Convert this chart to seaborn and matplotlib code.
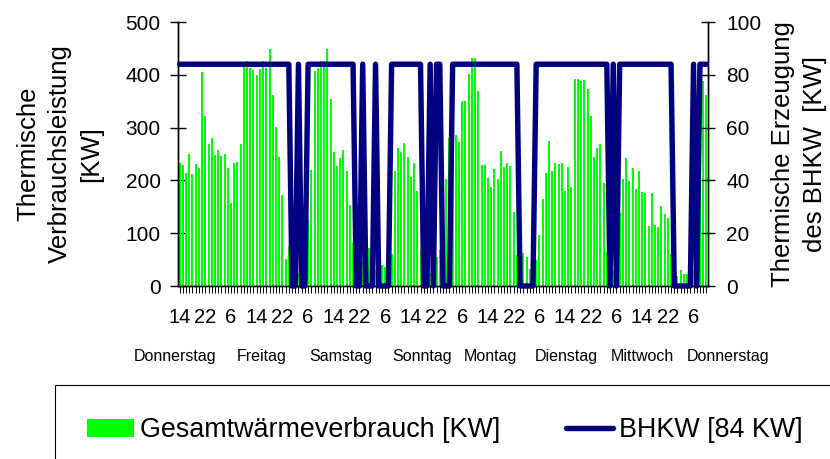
import numpy as np
import matplotlib
matplotlib.use('Agg')
import matplotlib.pyplot as plt
import seaborn as sns
from matplotlib.patches import Patch
from matplotlib.lines import Line2D

# hourly values, Thursday 14:00 to the following Thursday 10:00
verbrauch = [
    233, 229, 214, 250, 212, 231, 223, 405, 322, 269, 280, 248, 257, 246, 250, 223, 157, 233, 235, 269, 424, 426, 413, 409,
    399, 411, 426, 413, 449, 362, 301, 244, 172, 51, 76, 30, 20, 25, 40, 60, 125, 220, 407, 413, 426, 426, 449, 354,
    254, 227, 242, 257, 218, 153, 81, 40, 30, 45, 50, 72, 35, 30, 25, 40, 36, 30, 60, 218, 261, 254, 271, 244,
    206, 233, 180, 68, 40, 30, 25, 30, 55, 68, 60, 203, 280, 300, 286, 273, 350, 350, 401, 432, 432, 369, 229, 229,
    204, 187, 221, 203, 256, 225, 233, 227, 140, 59, 60, 62, 55, 32, 30, 50, 97, 165, 214, 274, 218, 233, 231, 233,
    180, 225, 187, 392, 392, 388, 390, 373, 322, 244, 261, 269, 195, 64, 40, 30, 50, 138, 203, 242, 199, 223, 184, 218,
    178, 176, 114, 176, 115, 112, 151, 136, 129, 60, 20, 19, 30, 23, 23, 20, 30, 100, 300, 388, 362,
]

bhkw = [
    84, 84, 84, 84, 84, 84, 84, 84, 84, 84, 84, 84, 84, 84, 84, 84, 84, 84, 84, 84, 84, 84, 84, 84,
    84, 84, 84, 84, 84, 84, 84, 84, 84, 84, 84, 0, 0, 84, 0, 0, 84, 84, 84, 84, 84, 84, 84, 84,
    84, 84, 84, 84, 84, 84, 84, 0, 0, 84, 0, 0, 0, 84, 0, 0, 0, 0, 84, 84, 84, 84, 84, 84,
    84, 84, 84, 84, 0, 0, 84, 0, 84, 84, 0, 0, 0, 84, 84, 84, 84, 84, 84, 84, 84, 84, 84, 84,
    84, 84, 84, 84, 84, 84, 84, 84, 84, 84, 0, 0, 0, 0, 0, 84, 84, 84, 84, 84, 84, 84, 84, 84,
    84, 84, 84, 84, 84, 84, 84, 84, 84, 84, 84, 84, 84, 84, 0, 84, 0, 84, 84, 84, 84, 84, 84, 84,
    84, 84, 84, 84, 84, 84, 84, 84, 84, 84, 0, 0, 0, 0, 0, 0, 84, 0, 84, 84, 84,
]

stunden = ['14', '22', '6'] * 7
tage = ['Donnerstag', 'Freitag', 'Samstag', 'Sonntag', 'Montag', 'Dienstag', 'Mittwoch', 'Donnerstag']
tage_px = [175, 262, 341, 422, 490, 566, 642, 728]  # caption centres in the original picture

GREEN = '#00ff00'
NAVY = '#000080'

sns.set_style('ticks')
plt.rcParams['font.family'] = ['Liberation Sans', 'DejaVu Sans']
plt.rcParams.update({'text.color': 'black', 'axes.labelcolor': 'black',
                     'xtick.color': 'black', 'ytick.color': 'black'})

W, H = 830, 459
fig = plt.figure(figsize=(W / 100, H / 100), dpi=100)
ax = fig.add_axes([178 / W, 1 - 286 / H, 530 / W, 264 / H])

idx = np.arange(len(verbrauch))
sns.barplot(x=idx, y=verbrauch, color=GREEN, saturation=1, width=0.62,
            linewidth=0, ax=ax)

ax2 = ax.twinx()
sns.lineplot(x=idx, y=bhkw, ax=ax2, color=NAVY, linewidth=3.9, clip_on=False,
             solid_joinstyle='round', solid_capstyle='round', zorder=5)

ax.set_xlim(-0.5, len(verbrauch) - 0.5)
ax.set_ylim(0, 500)
ax.set_yticks(range(0, 501, 100))
ax2.set_ylim(0, 100)
ax2.set_yticks(range(0, 101, 20))

labels = [''] * len(verbrauch)
for k, lab in zip(range(0, len(verbrauch), 8), stunden):
    labels[k] = lab
ax.set_xticks(idx)
ax.set_xticklabels(labels)
ax.set_xlabel('')

ax.tick_params(axis='x', direction='inout', length=9.5, width=0.7, color='black',
               labelsize=14.5, pad=11, bottom=True)
ax.tick_params(axis='y', direction='inout', length=11, width=1, color='black',
               labelsize=15, pad=7, left=True)
ax2.tick_params(axis='y', direction='inout', length=10, width=1, color='black',
                labelsize=15, pad=8, right=True)

for a in (ax, ax2):
    a.spines['top'].set_visible(False)
    for s in ('left', 'right', 'bottom'):
        a.spines[s].set_color('black')
        a.spines[s].set_linewidth(1)

ax.set_ylabel('Thermische\nVerbrauchsleistung\n[KW]', fontsize=18.5, linespacing=1.4)
ax.yaxis.label.set_va('center')
ax.yaxis.set_label_coords((60 - 178) / 530, 0.5)
ax2.set_ylabel('Thermische Erzeugung\ndes BHKW  [KW]', fontsize=18.5, rotation=90,
               linespacing=1.4)
ax2.yaxis.label.set_va('center')
ax2.yaxis.set_label_coords((799 - 178) / 530, 0.5)

for px, t in zip(tage_px, tage):
    fig.text(px / W, 1 - 360.7 / H, t, ha='center', va='baseline', fontsize=11.5)

handles = [Patch(facecolor=GREEN, edgecolor='none', label='Gesamtwärmeverbrauch [KW]'),
           Line2D([], [], color=NAVY, lw=3.9, label='BHKW [84 KW]')]
leg = fig.legend(handles=handles, loc='upper left', bbox_to_anchor=(55 / W, 1 - 385 / H),
                 ncol=2, frameon=True, fancybox=False, edgecolor='black', framealpha=1,
                 fontsize=19.4, handlelength=1.75, handleheight=0.68, handletextpad=0.2,
                 columnspacing=2.45, borderpad=1.2, borderaxespad=0)
leg.get_frame().set_linewidth(0.8)

fig.savefig('out.png', dpi=100)
